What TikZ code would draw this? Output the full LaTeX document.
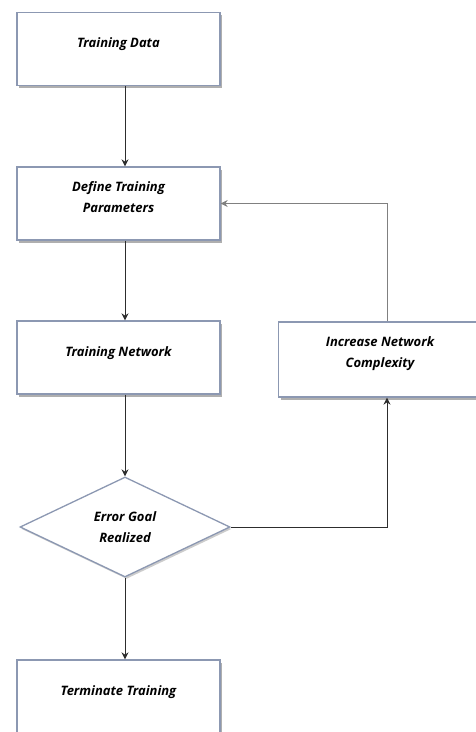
\documentclass[tikz,border=0pt]{standalone}
\usepackage{fontspec}
\setmainfont{Open Sans}
\usetikzlibrary{shapes.geometric,arrows.meta,shadows}
\definecolor{edgeblue}{RGB}{140,152,178}
\definecolor{linegray}{RGB}{45,45,45}
\tikzset{%
	block/.style    = {draw=edgeblue, line width=1.3pt, fill=white, rectangle, minimum height = 73pt, minimum width = 203pt, align=center,
	                   text depth=12pt, drop shadow={shadow xshift=2pt, shadow yshift=-2.5pt, fill=gray!70, opacity=.9}},
	decision/.style = {draw=edgeblue, line width=1.3pt, fill=white, diamond, aspect=2.1, minimum width = 210pt, minimum height = 100pt,
	                   inner sep=0pt, align=center, drop shadow={shadow xshift=1.5pt, shadow yshift=-2pt, fill=gray!50, opacity=.8}},
	flow/.style     = {draw=linegray, line width=1pt, -{Stealth[length=7pt,width=7pt]}},
	label/.style    = {font=\fontsize{13}{21}\selectfont\bfseries\itshape}
}

\begin{document}
\begin{tikzpicture}[x=1pt, y=-1pt]
	\useasboundingbox (0,0) rectangle (476,732);
	\draw % Drawing the flow chart
	node at (118.5, 49) [block, label] (data) {Training Data}
	node at (118.5, 203.5) [block, label] (params) {Define Training\\Parameters}
	node at (118.5, 357.5) [block, label] (trainnet) {Training Network}
	node at (380, 359.5) [block, label, minimum height = 75pt, text depth=14pt] (complexity) {Increase Network\\Complexity}
	node at (125, 527) [decision, label] (goal) {Error Goal\\Realized}
	node at (118.5, 696.5) [block, label] (terminate) {Terminate Training}
	;
	\coordinate (axis) at (125, 0);
	\coordinate (loop) at (387, 0);

	% Drawing the arrows
	\draw[flow] (data.south -| axis) -- (params.north -| axis);
	\draw[flow] (params.south -| axis) -- (trainnet.north -| axis);
	\draw[flow] (trainnet.south -| axis) -- (goal.north);
	\draw[flow] (goal.south) -- (terminate.north -| axis);
	\draw[flow] (goal.east) -| (complexity.south -| loop);
	\draw[flow, draw=gray] (complexity.north -| loop) |- (params.east);
\end{tikzpicture}
\end{document}
